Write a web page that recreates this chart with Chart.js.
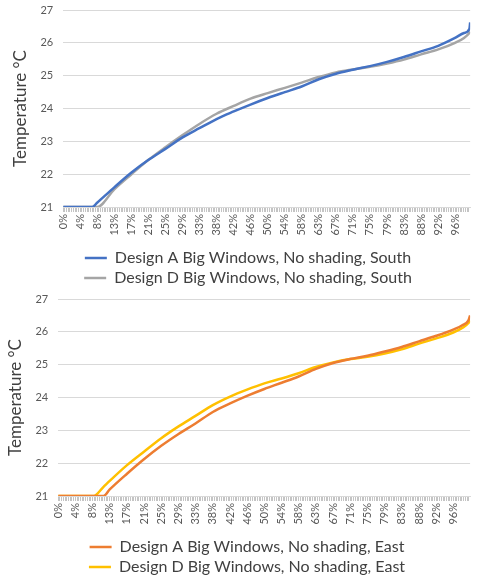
<!DOCTYPE html>
<html>
<head>
<meta charset="utf-8">
<script src="https://cdn.jsdelivr.net/npm/chart.js@4.4.1/dist/chart.umd.min.js"></script>
<style>
  body { margin: 0; background: #fff; }
  canvas { display: block; }
</style>
</head>
<body>
<canvas id="chartSouth" width="484" height="289"></canvas>
<canvas id="chartEast" width="484" height="289"></canvas>
<script>
// Courbes de durée de température (% du temps)
const southPct = [0, 4.2, 7.1, 8.3, 12.5, 16.7, 20.8, 25, 29.2, 33.3, 37.5, 41.7, 45.8, 50, 54.2, 58.3, 62.5, 66.7, 70.8, 75, 79.2, 83.3, 87.5, 91.7, 95.8, 98, 99.3, 99.5];
const southA = [21, 21, 21, 21.13, 21.6, 22.05, 22.43, 22.77, 23.12, 23.40, 23.68, 23.91, 24.12, 24.32, 24.5, 24.67, 24.89, 25.06, 25.18, 25.29, 25.42, 25.57, 25.74, 25.91, 26.15, 26.3, 26.42, 26.62];
const southD = [21, 21, 21, 21, 21.54, 22.0, 22.43, 22.82, 23.19, 23.53, 23.84, 24.08, 24.3, 24.47, 24.63, 24.79, 24.96, 25.1, 25.19, 25.27, 25.37, 25.49, 25.65, 25.8, 26.0, 26.15, 26.3, 26.34];

const eastPct = [0, 4.2, 8.3, 8.6, 11, 12.5, 16.7, 20.8, 25, 29.2, 33.3, 37.5, 41.7, 45.8, 50, 54.2, 58.3, 62.5, 66.7, 70.8, 75, 79.2, 83.3, 87.5, 91.7, 95.8, 98, 99.5, 99.9];
const eastA = [21, 21, 21, 21, 21, 21.2, 21.68, 22.12, 22.53, 22.89, 23.21, 23.56, 23.82, 24.05, 24.26, 24.45, 24.64, 24.87, 25.05, 25.17, 25.27, 25.4, 25.54, 25.71, 25.88, 26.07, 26.2, 26.35, 26.5];
const eastD = [21, 21, 21, 21, 21.28, 21.46, 21.94, 22.35, 22.76, 23.12, 23.44, 23.77, 24.03, 24.24, 24.43, 24.58, 24.74, 24.93, 25.07, 25.17, 25.24, 25.34, 25.47, 25.64, 25.8, 25.98, 26.12, 26.27, 26.35];

const yTicks = [21, 22, 23, 24, 25, 26, 27];
const labelCount = 24; // étiquettes 0%, 4%, 8% ... 96%

const FONT = 'Lato, "Noto Sans", sans-serif';

function toPoints(xs, ys) {
  return xs.map((x, i) => ({ x: x, y: ys[i] }));
}

function makeChart(id, xs, seriesA, seriesD, labelA, labelD, colorA, colorD, xMax, pad) {
  const ctx = document.getElementById(id).getContext('2d');
  // petites graduations serrées comme dans Excel
  const dense = [];
  for (let k = 0; k * 100 / 240 <= xMax + 0.001; k++) dense.push(k * 100 / 240);

  return new Chart(ctx, {
    type: 'line',
    data: {
      datasets: [
        { label: labelA, data: toPoints(xs, seriesA), borderColor: colorA, backgroundColor: colorA, borderWidth: 2.5, pointRadius: 0, cubicInterpolationMode: 'monotone' },
        { label: labelD, data: toPoints(xs, seriesD), borderColor: colorD, backgroundColor: colorD, borderWidth: 2.5, pointRadius: 0, cubicInterpolationMode: 'monotone' }
      ]
    },
    options: {
      responsive: false,
      animation: false,
      layout: { padding: pad },
      scales: {
        x: {
          type: 'linear',
          min: 0,
          max: xMax,
          afterBuildTicks: (scale) => {
            scale.ticks = dense.map(v => ({ value: v }));
          },
          ticks: {
            autoSkip: false,
            minRotation: 90,
            maxRotation: 90,
            padding: 2,
            color: '#595959',
            font: { family: FONT, size: 11 },
            callback: (value) => {
              const k = value * labelCount / 100;
              if (Math.abs(k - Math.round(k)) < 0.001 && Math.round(k) < labelCount) {
                return Math.round(value) + '%';
              }
              return '';
            }
          },
          grid: { drawOnChartArea: false, tickLength: 5, color: '#c4c4c4', lineWidth: 1 },
          border: { color: '#d9d9d9' },
          // espace entre les étiquettes et la légende
          title: { display: true, text: ' ', font: { size: 2 }, padding: { top: 6, bottom: 0 } }
        },
        y: {
          min: 21,
          max: 27,
          afterBuildTicks: (scale) => {
            scale.ticks = yTicks.map(v => ({ value: v }));
          },
          // le padding des étiquettes ne doit pas repousser le haut du graphique
          afterFit: (scale) => {
            scale.paddingTop = 10;
            scale.paddingBottom = 6;
          },
          ticks: { color: '#595959', font: { family: FONT, size: 11 }, padding: 10 },
          grid: { color: '#d9d9d9', drawTicks: false },
          border: { display: false },
          title: { display: true, text: 'Temperature °C', color: '#404040', font: { family: FONT, size: 17 }, padding: 0 }
        }
      },
      plugins: {
        legend: {
          position: 'bottom',
          labels: {
            usePointStyle: true,
            pointStyle: 'line',
            pointStyleWidth: 22,
            boxHeight: 2,
            padding: 4,
            color: '#404040',
            font: { family: FONT, size: 16 }
          }
        },
        tooltip: { enabled: false }
      }
    }
  });
}

makeChart('chartSouth', southPct, southA, southD,
  'Design A Big Windows, No shading, South', 'Design D Big Windows, No shading, South',
  '#4472C4', '#A5A5A5', 99.5, { left: 10, right: -2, top: 0, bottom: -7 });

makeChart('chartEast', eastPct, eastA, eastD,
  'Design A Big Windows, No shading, East', 'Design D Big Windows, No shading, East',
  '#ED7D31', '#FFC000', 99.9, { left: 5, right: -5, top: 0, bottom: -7 });
</script>
</body>
</html>
